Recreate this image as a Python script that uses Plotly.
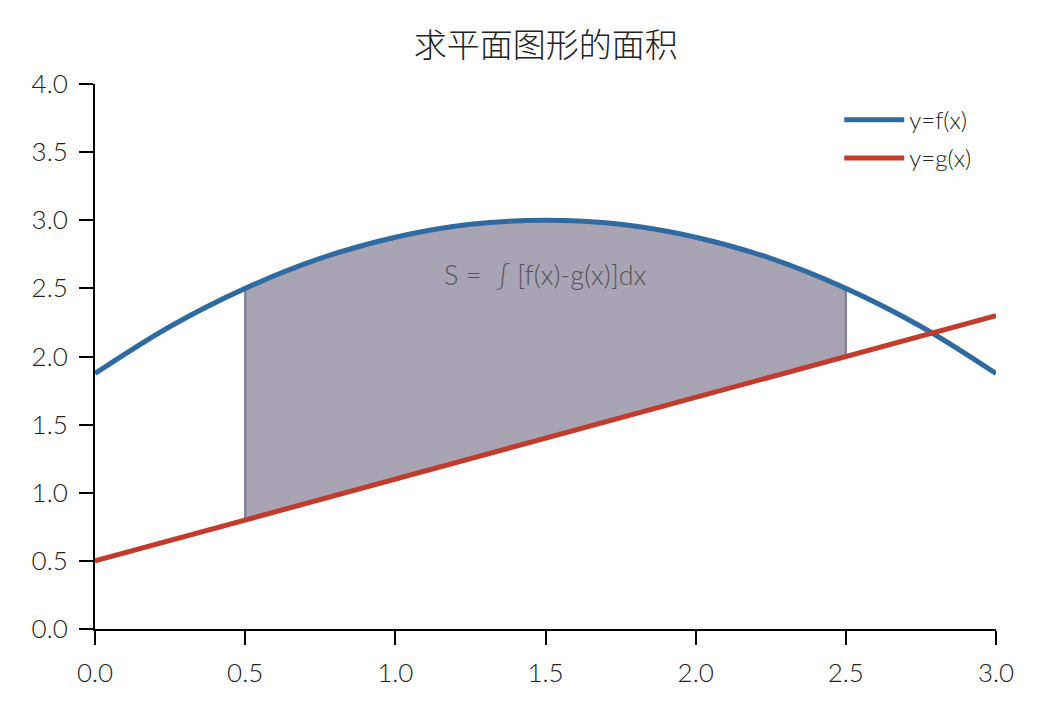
import plotly.graph_objects as go

# values
x_f = [0.0, 0.25, 0.5, 0.75, 1.0, 1.25, 1.5, 1.75, 2.0, 2.25, 2.5, 2.75, 3.0]
y_f = [1.875, 2.22, 2.50, 2.72, 2.875, 2.97, 3.00, 2.97, 2.875, 2.72, 2.50, 2.22, 1.875]
x_g = [0.0, 3.0]
y_g = [0.5, 2.3]

# shaded region bounds
x_lo, x_hi = 0.5, 2.5
g_lo, g_hi = 0.8, 2.0

x_ticks = [0.0, 0.5, 1.0, 1.5, 2.0, 2.5, 3.0]
y_ticks = [0.0, 0.5, 1.0, 1.5, 2.0, 2.5, 3.0, 3.5, 4.0]

CJK = "Noto Sans CJK SC"
LATIN = "Lato, Noto Sans CJK SC"
BLUE = "#2f6ba0"
RED = "#c23b2c"
FILL = "#a8a4b3"
EDGE = "rgba(120,118,145,0.85)"

xs = [x for x in x_f if x_lo <= x <= x_hi]
fs = [y for x, y in zip(x_f, y_f) if x_lo <= x <= x_hi]

fig = go.Figure()

# lower bound of the area (invisible), then fill up to f
fig.add_trace(go.Scatter(x=[x_lo, x_hi], y=[g_lo, g_hi], mode="lines",
                         line=dict(width=0, color=FILL), showlegend=False, hoverinfo="skip"))
fig.add_trace(go.Scatter(x=xs, y=fs, mode="lines", fill="tonexty", fillcolor=FILL,
                         line=dict(width=0, color=FILL, shape="spline"),
                         showlegend=False, hoverinfo="skip"))

# edges of the region
fig.add_trace(go.Scatter(x=[x_lo, x_lo], y=[g_lo, fs[0]], mode="lines",
                         line=dict(width=2.5, color=EDGE), showlegend=False, hoverinfo="skip"))
fig.add_trace(go.Scatter(x=[x_hi, x_hi], y=[g_hi, fs[-1]], mode="lines",
                         line=dict(width=2.5, color=EDGE), showlegend=False, hoverinfo="skip"))

fig.add_trace(go.Scatter(x=x_f, y=y_f, mode="lines", name="y=f(x)", legendgroup="f",
                         line=dict(color=BLUE, width=5, shape="spline")))
fig.add_trace(go.Scatter(x=x_g, y=y_g, mode="lines", name="y=g(x)", legendgroup="g",
                         line=dict(color=RED, width=5)))

fig.add_annotation(x=1.5, y=2.6, text="S =\u00a0 ∫ [f(x)-g(x)]dx", showarrow=False,
                   font=dict(family=LATIN, size=27, color="#555555", weight=300))

axis_style = dict(
    showline=True, linecolor="black", linewidth=2,
    ticks="outside", ticklen=14, tickwidth=2, tickcolor="black",
    showgrid=False, zeroline=False, mirror=False, automargin=False,
    tickformat=".1f",
    tickfont=dict(family=LATIN, size=26, color="#222222", weight=300),
)

fig.update_xaxes(range=[0, 3], tickvals=x_ticks, ticklabelstandoff=6, **axis_style)
fig.update_yaxes(range=[0, 4], tickvals=y_ticks, ticklabelstandoff=6, **axis_style)

fig.update_layout(
    width=1044, height=717,
    margin=dict(l=87, r=56, t=76, b=96),
    plot_bgcolor="white", paper_bgcolor="white",
    title=dict(text="求平面图形的面积", x=0.515, xanchor="center",
               y=1 - 37 / 717, yanchor="middle", yref="container",
               font=dict(family=CJK, size=33, color="#222222", weight=300)),
    legend=dict(x=0.826, y=0.975, xanchor="left", yanchor="top",
                traceorder="grouped", itemwidth=60,
                bgcolor="rgba(0,0,0,0)", tracegroupgap=4,
                font=dict(family=LATIN, size=24, color="#222222", weight=300)),
)

fig.write_html("out.html")
